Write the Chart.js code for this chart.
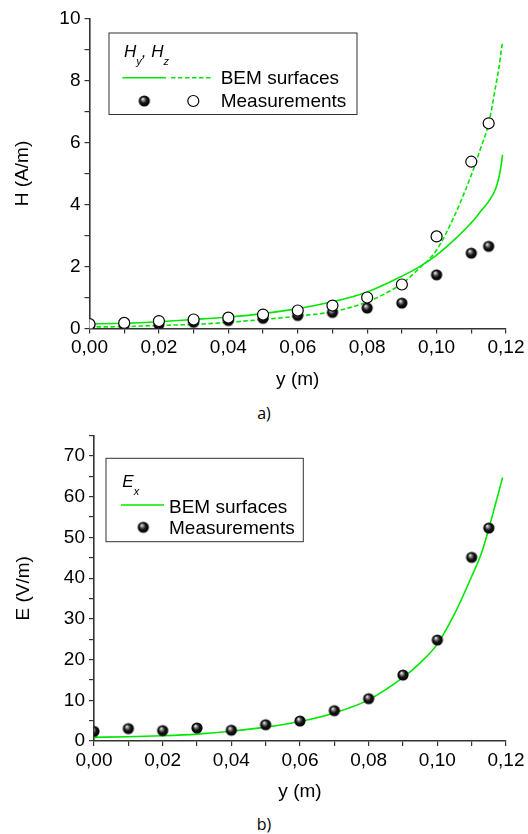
<!DOCTYPE html>
<html><head><meta charset="utf-8">
<script src="https://cdn.jsdelivr.net/npm/chart.js@4.4.1/dist/chart.umd.min.js"></script>
<style>
html,body{margin:0;padding:0;background:#fff;}
#wrap{position:relative;width:528px;height:834px;overflow:hidden;background:#fff;}
#c1{position:absolute;left:0;top:0;width:528px;height:400px;}
#c2{position:absolute;left:0;top:420px;width:528px;height:392px;}
.cap{position:absolute;left:0;width:528px;text-align:center;font-family:"Open Sans",sans-serif;font-size:16px;line-height:22px;color:#000;}
</style></head><body>
<div id="wrap">
<canvas id="c1" width="528" height="400"></canvas>
<div class="cap" style="top:402px">a)</div>
<canvas id="c2" width="528" height="392"></canvas>
<div class="cap" style="top:813px">b)</div>
</div>
<script>
// ---------- data ----------
const yPos = [0, 0.01, 0.02, 0.03, 0.04, 0.05, 0.06, 0.07, 0.08, 0.09, 0.10, 0.11, 0.115];
const hyMeas = [0.10, 0.12, 0.13, 0.20, 0.26, 0.33, 0.42, 0.52, 0.66, 0.82, 1.73, 2.43, 2.65];
const hzMeas = [0.14, 0.18, 0.24, 0.29, 0.35, 0.45, 0.58, 0.74, 1.00, 1.42, 2.97, 5.38, 6.62];

const yBemH = [0, 0.01, 0.02, 0.03, 0.04, 0.05, 0.06, 0.07, 0.08, 0.09, 0.095, 0.10, 0.105, 0.11, 0.1125, 0.115, 0.117, 0.118, 0.1185, 0.119];
const hyBem = [0.15, 0.17, 0.22, 0.29, 0.37, 0.48, 0.64, 0.86, 1.18, 1.69, 1.99, 2.37, 2.85, 3.41, 3.75, 4.10, 4.50, 4.90, 5.20, 5.60];
const hzBem = [0.05, 0.06, 0.10, 0.13, 0.20, 0.29, 0.40, 0.54, 0.86, 1.45, 1.94, 2.53, 3.60, 4.95, 5.75, 6.61, 7.80, 8.44, 8.85, 9.25];

const exMeas = [2.35, 3.05, 2.55, 3.20, 2.65, 4.00, 4.90, 7.45, 10.4, 16.2, 24.8, 45.1, 52.3];
const yBemE = [0, 0.01, 0.02, 0.03, 0.04, 0.05, 0.06, 0.07, 0.08, 0.09, 0.095, 0.10, 0.105, 0.11, 0.113, 0.115, 0.117, 0.119];
const exBem = [0.9, 1.05, 1.3, 1.7, 2.4, 3.4, 4.8, 6.9, 10.1, 15.6, 19.2, 23.8, 31.2, 40.4, 46.5, 52.2, 58.4, 64.7];

const xTickValues = [0, 0.02, 0.04, 0.06, 0.08, 0.10, 0.12];
const xTickLabels = ['0,00', '0,02', '0,04', '0,06', '0,08', '0,10', '0,12'];
const hTickValues = [0, 2, 4, 6, 8, 10];
const hTickLabels = ['0', '2', '4', '6', '8', '10'];
const eTickValues = [0, 10, 20, 30, 40, 50, 60, 70];
const eTickLabels = ['0', '10', '20', '30', '40', '50', '60', '70'];

// ---------- helpers ----------
const GREEN = '#00e800';
const AXIS = '#333333';
const FONT = '"Liberation Sans", Arial, sans-serif';
Chart.defaults.font.family = FONT;
Chart.defaults.font.size = 19;
Chart.defaults.color = '#000';

function pts(xs, ys) { return xs.map((x, i) => ({ x: x, y: ys[i] })); }
function labelFor(values, labels) {
  return function (v) {
    for (let i = 0; i < values.length; i++) if (Math.abs(values[i] - v) < 1e-7) return labels[i];
    return '';
  };
}
function makeBall(r) {
  const c = document.createElement('canvas');
  const s = Math.ceil(2 * r + 2);
  c.width = s; c.height = s;
  const g = c.getContext('2d');
  const cx = s / 2, cy = s / 2;
  const grad = g.createRadialGradient(cx - r * 0.3, cy - r * 0.38, r * 0.05, cx, cy, r);
  grad.addColorStop(0, '#f4f4f4');
  grad.addColorStop(0.22, '#8a8a8a');
  grad.addColorStop(0.55, '#151515');
  grad.addColorStop(1, '#000');
  g.fillStyle = grad;
  g.beginPath(); g.arc(cx, cy, r, 0, Math.PI * 2); g.fill();
  return c;
}
const BALL = makeBall(5.6);

function xScale(axisH, titlePadBottom) {
  return {
    type: 'linear', position: 'bottom', min: 0, max: 0.12,
    afterFit(s) { s.height = axisH; },
    ticks: { stepSize: 0.01, autoSkip: false, maxRotation: 0, padding: 3, color: '#000',
      callback: labelFor(xTickValues, xTickLabels) },
    grid: { drawOnChartArea: false, drawTicks: true, tickLength: 5, color: AXIS, lineWidth: 1.2 },
    border: { display: true, color: AXIS, width: 1.6 },
    title: { display: true, text: 'y (m)', color: '#000', font: { size: 19 }, padding: { top: 0, bottom: titlePadBottom } }
  };
}
function yScale(axisW, max, step, vals, labs, title, titlePadTop) {
  return {
    type: 'linear', position: 'left', min: 0, max: max,
    afterFit(s) { s.width = axisW; },
    ticks: { stepSize: step, autoSkip: false, padding: 4, color: '#000', callback: labelFor(vals, labs) },
    grid: { drawOnChartArea: false, drawTicks: true, tickLength: 5, color: AXIS, lineWidth: 1.2 },
    border: { display: true, color: AXIS, width: 1.6 },
    title: { display: true, text: title, color: '#000', font: { size: 19 }, padding: { top: titlePadTop, bottom: 0 } }
  };
}
function drawHollow(ctx, x, y) {
  ctx.beginPath(); ctx.arc(x, y, 5.5, 0, Math.PI * 2);
  ctx.fillStyle = '#fff'; ctx.fill();
  ctx.lineWidth = 1.2; ctx.strokeStyle = '#000'; ctx.stroke();
}
function line(ctx, x1, x2, y, dash) {
  ctx.beginPath(); ctx.setLineDash(dash || []); ctx.moveTo(x1, y); ctx.lineTo(x2, y);
  ctx.strokeStyle = GREEN; ctx.lineWidth = 1.6; ctx.stroke(); ctx.setLineDash([]);
}
function italicWithSub(ctx, x, y, main, sub) {
  ctx.font = 'italic 17px ' + FONT;
  ctx.fillText(main, x, y);
  x += ctx.measureText(main).width;
  ctx.font = 'italic 11px ' + FONT;
  ctx.fillText(sub, x, y + 7.5);
  return x + ctx.measureText(sub).width;
}

// ---------- chart a) ----------
const legendA = {
  id: 'legendA',
  afterDraw(chart) {
    const ctx = chart.ctx, a = chart.chartArea, L = a.left, T = a.top;
    ctx.save();
    ctx.fillStyle = '#fff';
    ctx.fillRect(L + 19.5, T + 14.5, 248, 81.5);
    ctx.strokeStyle = AXIS; ctx.lineWidth = 1;
    ctx.strokeRect(L + 19.5, T + 14.5, 248, 81.5);
    ctx.fillStyle = '#000'; ctx.textBaseline = 'alphabetic'; ctx.textAlign = 'left';
    let x = italicWithSub(ctx, L + 34.5, T + 38.8, 'H', 'y');
    ctx.font = 'italic 17px ' + FONT;
    ctx.fillText(', ', x, T + 38.8);
    x += ctx.measureText(', ').width;
    italicWithSub(ctx, x, T + 38.8, 'H', 'z');
    line(ctx, L + 32.8, L + 76.5, T + 59.2);
    line(ctx, L + 81.5, L + 123.2, T + 59.2, [4.5, 2.5]);
    ctx.fillStyle = '#000';
    ctx.font = '19px ' + FONT;
    ctx.fillText('BEM surfaces', L + 131.2, T + 65.5);
    ctx.fillText('Measurements', L + 131.2, T + 88.8);
    ctx.drawImage(BALL, L + 54.8 - BALL.width / 2, T + 82.5 - BALL.height / 2);
    drawHollow(ctx, L + 103.8, T + 82.5);
    ctx.restore();
  }
};

new Chart(document.getElementById('c1'), {
  type: 'scatter',
  data: {
    datasets: [
      { label: 'Hz measurements', data: pts(yPos, hzMeas), pointStyle: 'circle', pointRadius: 5.5,
        pointBackgroundColor: '#fff', pointBorderColor: '#000', pointBorderWidth: 1.2, showLine: false },
      { label: 'Hy measurements', data: pts(yPos, hyMeas), pointStyle: BALL, pointRadius: 5.6, showLine: false },
      { label: 'Hy BEM surfaces', data: pts(yBemH, hyBem), showLine: true, pointRadius: 0,
        borderColor: GREEN, borderWidth: 1.6, cubicInterpolationMode: 'monotone', fill: false },
      { label: 'Hz BEM surfaces', data: pts(yBemH, hzBem), showLine: true, pointRadius: 0,
        borderColor: GREEN, borderWidth: 1.6, borderDash: [4.5, 2.5], cubicInterpolationMode: 'monotone', fill: false }
    ]
  },
  options: {
    responsive: false, animation: false, devicePixelRatio: 1,
    layout: { padding: { left: 0, right: 22, top: 18.5, bottom: 0 } },
    plugins: { legend: { display: false }, tooltip: { enabled: false } },
    scales: {
      x: xScale(71.5, 9.2),
      y: yScale(89.5, 10, 1, hTickValues, hTickLabels, 'H (A/m)', 11.5)
    }
  },
  plugins: [legendA]
});

// ---------- chart b) ----------
const legendB = {
  id: 'legendB',
  afterDraw(chart) {
    const ctx = chart.ctx, a = chart.chartArea, L = a.left, T = a.top;
    ctx.save();
    ctx.fillStyle = '#fff';
    ctx.fillRect(L + 12, T + 22.7, 197.3, 83.4);
    ctx.strokeStyle = AXIS; ctx.lineWidth = 1;
    ctx.strokeRect(L + 12, T + 22.7, 197.3, 83.4);
    ctx.fillStyle = '#000'; ctx.textBaseline = 'alphabetic'; ctx.textAlign = 'left';
    italicWithSub(ctx, L + 28.3, T + 51.7, 'E', 'x');
    line(ctx, L + 27, L + 70, T + 69.4);
    ctx.fillStyle = '#000';
    ctx.font = '19px ' + FONT;
    ctx.fillText('BEM surfaces', L + 75, T + 77.1);
    ctx.fillText('Measurements', L + 75, T + 98.4);
    ctx.drawImage(BALL, L + 49.3 - BALL.width / 2, T + 91.7 - BALL.height / 2);
    ctx.restore();
  }
};

new Chart(document.getElementById('c2'), {
  type: 'scatter',
  data: {
    datasets: [
      { label: 'Ex measurements', data: pts(yPos, exMeas), pointStyle: BALL, pointRadius: 5.6, showLine: false },
      { label: 'Ex BEM surfaces', data: pts(yBemE, exBem), showLine: true, pointRadius: 0,
        borderColor: GREEN, borderWidth: 1.6, cubicInterpolationMode: 'monotone', fill: false }
    ]
  },
  options: {
    responsive: false, animation: false, devicePixelRatio: 1,
    layout: { padding: { left: 0, right: 22, top: 15.6, bottom: 0 } },
    plugins: { legend: { display: false }, tooltip: { enabled: false } },
    scales: {
      x: xScale(71, 8.6),
      y: yScale(94, 75, 5, eTickValues, eTickLabels, 'E (V/m)', 12.2)
    }
  },
  plugins: [legendB]
});
</script>
</body></html>
